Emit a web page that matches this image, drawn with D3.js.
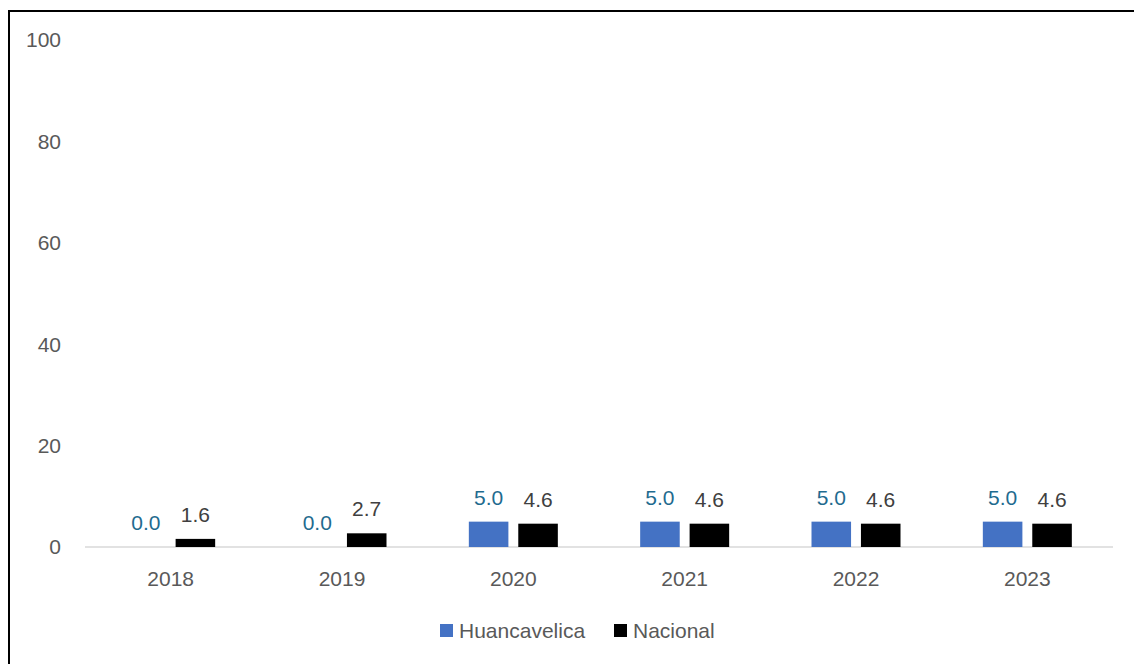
<!DOCTYPE html>
<head>
  <meta charset="utf-8">
  <script src="https://d3js.org/d3.v7.min.js"></script>
  <style>
    body { margin:0; background:white; }
  </style>
</head>
<body>
<script>
  // values
  const years = ['2018', '2019', '2020', '2021', '2022', '2023'];
  const seriesNames = ['Huancavelica', 'Nacional'];
  const huancavelica = [0.0, 0.0, 5.0, 5.0, 5.0, 5.0];
  const nacional = [1.6, 2.7, 4.6, 4.6, 4.6, 4.6];
  const yTicks = [0, 20, 40, 60, 80, 100];

  const barColor = { Huancavelica: '#4472C4', Nacional: '#000000' };
  const labelColor = { Huancavelica: '#1F6B8F', Nacional: '#404040' };
  const font = '"Liberation Sans", Arial, sans-serif';
  const fontSize = '21px';

  const width = 1134, height = 664;

  const svg = d3.select('body').append('svg')
    .attr('width', width)
    .attr('height', height);

  // chart frame, runs off the right and bottom edge
  svg.append('rect')
    .attr('x', 9).attr('y', 11)
    .attr('width', width).attr('height', height)
    .style('fill', 'none')
    .style('stroke', '#000')
    .style('stroke-width', 2);

  const x0 = d3.scaleBand().domain(years).range([85, 1113]);
  const x1 = d3.scaleBand().domain(seriesNames).range([-44.5, 44.5]).paddingInner(0.2);
  const y = d3.scaleLinear().domain([0, 100]).range([547, 40]);

  // y tick labels (no gridlines)
  svg.append('g')
    .selectAll('text')
    .data(yTicks)
    .enter()
    .append('text')
    .attr('x', 61)
    .attr('y', d => y(d))
    .attr('dy', '0.35em')
    .attr('text-anchor', 'end')
    .text(d => d)
    .style('fill', '#595959')
    .style('font-family', font)
    .style('font-size', fontSize);

  // baseline
  svg.append('line')
    .attr('x1', 85).attr('x2', 1113)
    .attr('y1', y(0)).attr('y2', y(0))
    .style('stroke', '#D9D9D9')
    .style('stroke-width', 1.5);

  // x labels
  svg.append('g')
    .selectAll('text')
    .data(years)
    .enter()
    .append('text')
    .attr('x', d => x0(d) + x0.bandwidth() / 2)
    .attr('y', 586)
    .attr('text-anchor', 'middle')
    .text(d => d)
    .style('fill', '#595959')
    .style('font-family', font)
    .style('font-size', fontSize);

  const rows = [];
  years.forEach((yr, i) => {
    rows.push({ year: yr, series: 'Huancavelica', value: huancavelica[i] });
    rows.push({ year: yr, series: 'Nacional', value: nacional[i] });
  });

  const cx = d => x0(d.year) + x0.bandwidth() / 2 + x1(d.series);

  svg.append('g')
    .selectAll('rect')
    .data(rows)
    .enter()
    .append('rect')
    .attr('x', d => cx(d))
    .attr('y', d => y(d.value))
    .attr('width', x1.bandwidth())
    .attr('height', d => y(0) - y(d.value))
    .style('fill', d => barColor[d.series]);

  svg.append('g')
    .selectAll('text')
    .data(rows)
    .enter()
    .append('text')
    .attr('x', d => cx(d) + x1.bandwidth() / 2)
    .attr('y', d => y(d.value) - 17)
    .attr('text-anchor', 'middle')
    .text(d => d3.format('.1f')(d.value))
    .style('fill', d => labelColor[d.series])
    .style('font-family', font)
    .style('font-size', fontSize);

  // legend
  const legendPos = [{ name: 'Huancavelica', x: 440 }, { name: 'Nacional', x: 614 }];
  const leg = svg.append('g')
    .selectAll('g')
    .data(legendPos)
    .enter()
    .append('g')
    .attr('transform', d => `translate(${d.x}, 624)`);

  leg.append('rect')
    .attr('width', 13).attr('height', 13)
    .style('fill', d => barColor[d.name]);

  leg.append('text')
    .attr('x', 19)
    .attr('y', 14)
    .text(d => d.name)
    .style('fill', '#595959')
    .style('font-family', font)
    .style('font-size', fontSize);
</script>
</body>
